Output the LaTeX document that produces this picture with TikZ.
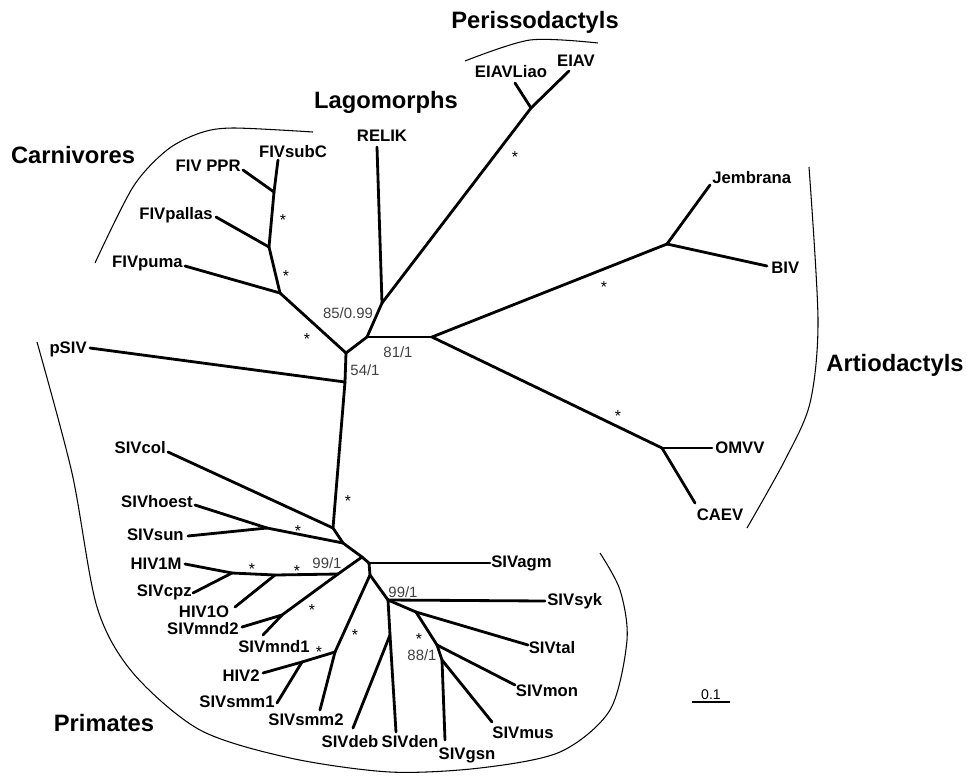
\documentclass[tikz,border=0pt]{standalone}
\usepackage{fontspec}
\setmainfont{Liberation Sans}
\definecolor{suppgray}{RGB}{64, 64, 64}
\usetikzlibrary{positioning, calc}

\begin{document}
\begin{tikzpicture}[x=0.02cm, y=-0.02cm,
    branch/.style={line width=1.6pt, line cap=round, line join=round},
    bracket/.style={line width=0.6pt},
    taxon/.style={font=\fontsize{9.5}{11}\selectfont\bfseries, inner sep=0pt},
    clade/.style={font=\fontsize{13.5}{16}\selectfont\bfseries, inner sep=0pt},
    supp/.style={font=\fontsize{8.5}{10}\selectfont, suppgray, inner sep=0pt},
    sig/.style={font=\fontsize{9}{10}\selectfont, inner sep=0pt, yshift=-2pt}]
  \useasboundingbox (0,0) rectangle (967,775);

  % Internal nodes
  \coordinate (root) at (346,353);
  \coordinate (ungul) at (367,337);
  \coordinate (lago) at (382,303);
  \coordinate (peri) at (531,108);
  \coordinate (arti) at (432,337);
  \coordinate (bovi) at (667,244);
  \coordinate (capr) at (662,448);
  \coordinate (puma) at (280,293);
  \coordinate (pall) at (269,247);
  \coordinate (ppr) at (274,192);
  \coordinate (psiv) at (345,382);
  \coordinate (col) at (333,528);
  \coordinate (hoe) at (343,543);
  \coordinate (sun) at (267,528);
  \coordinate (hubA) at (362,557);
  \coordinate (hubB) at (369,563);
  \coordinate (hubC) at (370,575);
  \coordinate (hivL) at (338,574);
  \coordinate (hivO) at (275,575);
  \coordinate (hivM) at (232,573);
  \coordinate (mnd) at (282,615);
  \coordinate (smm) at (335,652);
  \coordinate (hiv2) at (302,662);
  \coordinate (cerc) at (388,600);
  \coordinate (deb) at (390,635);
  \coordinate (tal) at (416,612);
  \coordinate (guen) at (437,645);
  \coordinate (gsn) at (442,660);

  % Tips
  \foreach \n/\x/\y in {subcT/278/160, pprT/243/170, pallT/216/217, pumaT/185/266,
      relikT/377/147, eiavT/569/71, liaoT/515/83, jembT/710/185, bivT/767/266,
      omvvT/712/448, caevT/695/503, psivT/90/348, colT/168/452, hoestT/195/505,
      sunT/188/536, agmT/490/563, hivmT/185/564, cpzT/193/593, hivoT/235/607,
      mndbT/242/627, mndaT/263/635, smmbT/320/710, hivbT/263/673, smmaT/277/703,
      sykT/545/601, denT/396/732, debT/353/728, talT/528/645, monT/515/685,
      musT/492/722, gsnT/445/740}
    \coordinate (\n) at (\x,\y);

  % Branches
  \foreach \a/\b in {root/ungul, ungul/lago, lago/relikT, lago/peri, peri/eiavT, peri/liaoT,
      ungul/arti, arti/bovi, bovi/jembT, bovi/bivT, arti/capr, capr/omvvT, capr/caevT,
      root/puma, puma/pumaT, puma/pall, pall/pallT, pall/ppr, ppr/pprT, ppr/subcT,
      root/psiv, psiv/psivT, psiv/col, col/colT, col/hoe, hoe/sun, sun/hoestT, sun/sunT,
      hoe/hubA, hubA/hubB, hubB/agmT, hubB/hubC, hubA/hivL, hivL/hivO, hivO/hivoT,
      hivO/hivM, hivM/hivmT, hivM/cpzT, hivL/mnd, mnd/mndbT, mnd/mndaT,
      hubC/smm, smm/smmbT, smm/hiv2, hiv2/hivbT, hiv2/smmaT,
      hubC/cerc, cerc/sykT, cerc/deb, deb/denT, deb/debT, cerc/tal, tal/talT,
      tal/guen, guen/monT, guen/gsn, gsn/musT, gsn/gsnT}
    \draw[branch] (\a) -- (\b);

  % Taxon labels
  \foreach \n/\x/\y/\a/\t in {subc/293/152/center/FIVsubC, pprl/241/166/east/FIV PPR,
      palll/213/215/east/FIVpallas, pumal/183/263/east/FIVpuma, relik/382/136/center/RELIK,
      liao/511/72/center/EIAVLiao, eiav/576/61/center/EIAV, jemb/712/178/west/Jembrana,
      biv/771/268/west/BIV, omvv/715/448/west/OMVV, caev/720/515/center/CAEV,
      psivl/87/349/east/pSIV, coll/166/448/east/SIVcol, hoest/193/502/east/SIVhoest,
      sunl/184/535/east/SIVsun, hivm/182/564/east/HIV1M, cpz/192/592/east/SIVcpz,
      hivo/204/612/center/HIV1O, mndb/239/629/east/SIVmnd2, mnda/274/647/center/SIVmnd1,
      hivb/260/676/east/HIV2, smma/237/702/center/SIVsmm1, smmb/306/720/center/SIVsmm2,
      debl/350/742/center/SIVdeb, den/410/742/center/SIVden, gsnl/467/755/center/SIVgsn,
      mus/523/733/center/SIVmus, mon/547/691/center/SIVmon, tall/552/648/center/SIVtal,
      syk/547/601/west/SIVsyk, agm/491/563/west/SIVagm}
    \node[taxon, anchor=\a] (\n) at (\x,\y) {\t};

  % Host groups
  \node[clade] (carn) at (73,155) {Carnivores};
  \node[clade] (lagl) at (386,102) {Lagomorphs};
  \node[clade] (peril) at (535,22) {Perissodactyls};
  \node[clade] (artil) at (895,365) {Artiodactyls};
  \node[clade] (prim) at (104,723) {Primates};

  \draw[bracket] plot[smooth] coordinates {(95,263) (133,187) (167,150) (200,133) (233,128) (313,132)};
  \draw[bracket] plot[smooth] coordinates {(465,61) (530,40) (598,43)};
  \draw[bracket] plot[smooth] coordinates {(809,167) (818,320) (810,403) (785,460) (747,528)};
  \draw[bracket] plot[smooth] coordinates {(37,342) (72,473) (97,607) (133,673) (200,730)
      (290,758) (390,772) (480,768) (560,752) (610,710) (627,640) (620,590) (600,553)};

  % Support values
  \node[supp] (b1) at (348,313) {85/0.99};
  \node[supp] (b2) at (398,352) {81/1};
  \node[supp] (b3) at (365,370) {54/1};
  \node[supp] (b4) at (327,563) {99/1};
  \node[supp] (b5) at (403,592) {99/1};
  \node[supp] (b6) at (422,655) {88/1};
  \foreach \x/\y [count=\i] in {283/217, 286/273, 307/336, 515/154, 604/284, 618/413,
      348/498, 298/528, 252/566, 297/568, 312/607, 355/632, 319/649, 419/636}
    \node[sig] (s\i) at (\x,\y) {*};

  % Scale bar
  \coordinate (sbl) at (692,702);
  \coordinate (sbr) at (730,702);
  \draw[line width=0.6pt] (sbl) -- (sbr);
  \node[supp, black, font=\fontsize{8}{9}\selectfont, above=1pt] (sbt) at ($(sbl)!0.5!(sbr)$) {0.1};
\end{tikzpicture}
\end{document}
